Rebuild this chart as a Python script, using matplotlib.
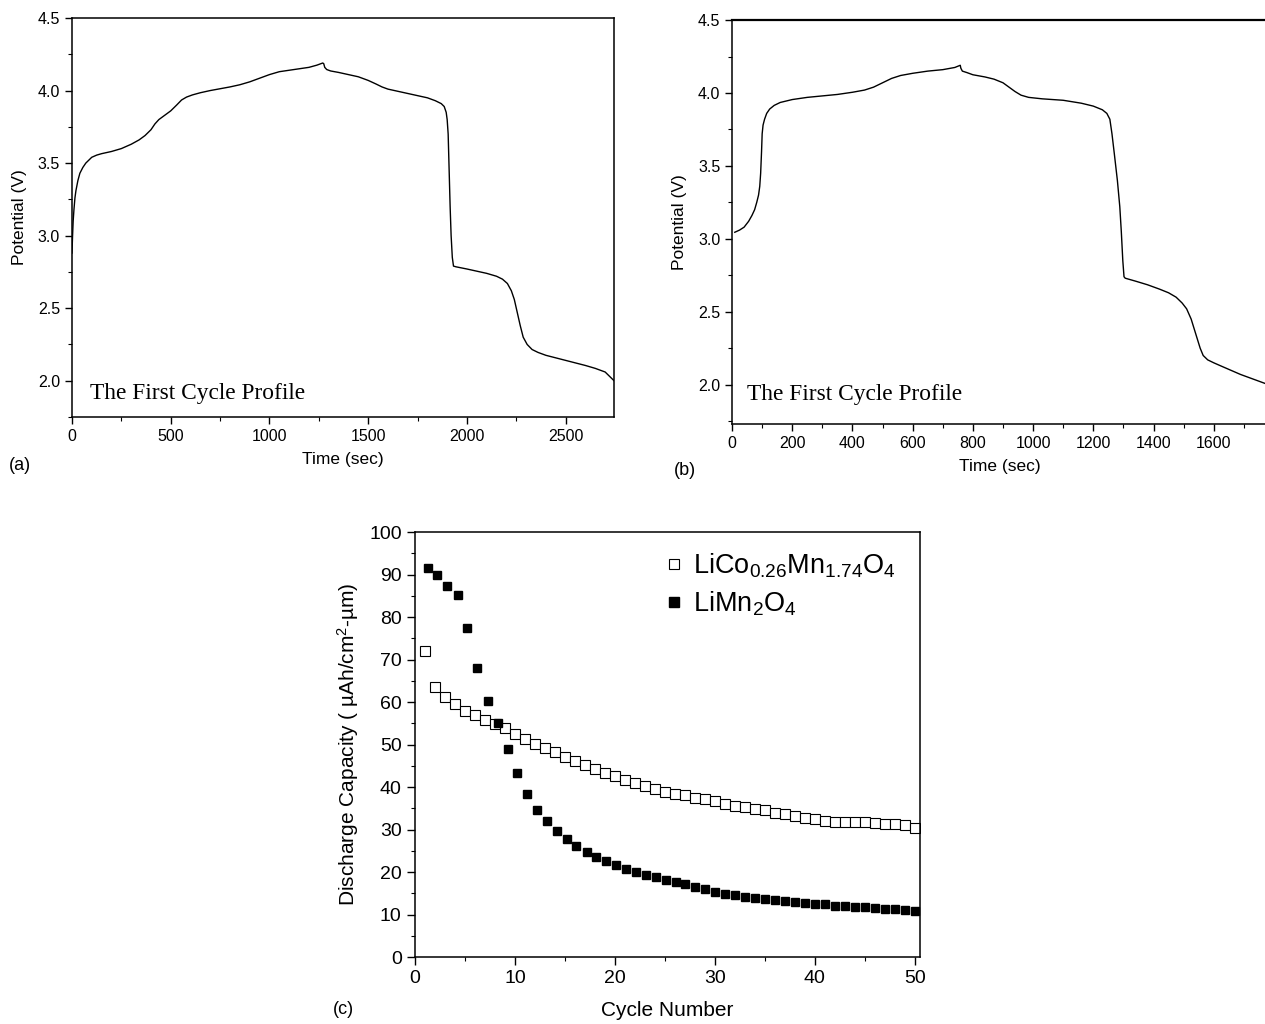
import matplotlib
matplotlib.use('Agg')
import matplotlib.pyplot as plt
import numpy as np
from matplotlib.ticker import MultipleLocator

plt.rcParams['font.family'] = ['Liberation Sans', 'DejaVu Sans']
plt.rcParams['mathtext.fontset'] = 'custom'
plt.rcParams['mathtext.rm'] = 'Liberation Sans'
plt.rcParams['mathtext.it'] = 'Liberation Sans:italic'
plt.rcParams['mathtext.bf'] = 'Liberation Sans:bold'

# panel (a): first cycle profile, LiCo0.26Mn1.74O4 film
time_a = [0, 3, 6, 10, 15, 20, 30, 40, 55, 70, 85, 100, 125, 150, 200, 250, 300,
          340, 370, 400, 420, 440, 470, 500, 530, 555, 580, 610, 650, 700, 800,
          850, 900, 950, 1000, 1050, 1100, 1150, 1200, 1240, 1270, 1275, 1280,
          1290, 1310, 1350, 1400, 1450, 1500, 1540, 1570, 1600, 1650, 1700, 1750,
          1800, 1840, 1870, 1885, 1895, 1900, 1905, 1910, 1915, 1920, 1926, 1932,
          1945, 2000, 2050, 2100, 2150, 2180, 2205, 2225, 2240, 2255, 2270, 2285,
          2305, 2330, 2360, 2400, 2500, 2600, 2650, 2700, 2745]
volt_a = [2.88, 3.00, 3.10, 3.18, 3.26, 3.31, 3.38, 3.43, 3.47, 3.50, 3.52, 3.54,
          3.555, 3.565, 3.58, 3.60, 3.63, 3.66, 3.69, 3.73, 3.77, 3.80, 3.83, 3.86,
          3.90, 3.935, 3.955, 3.97, 3.985, 4.00, 4.025, 4.04, 4.06, 4.085, 4.11,
          4.13, 4.14, 4.15, 4.16, 4.175, 4.19, 4.185, 4.16, 4.145, 4.135, 4.125,
          4.11, 4.095, 4.07, 4.045, 4.025, 4.01, 3.995, 3.98, 3.965, 3.95, 3.93,
          3.91, 3.89, 3.85, 3.80, 3.70, 3.45, 3.20, 3.00, 2.85, 2.79, 2.785, 2.77,
          2.755, 2.74, 2.72, 2.70, 2.67, 2.62, 2.56, 2.47, 2.38, 2.30, 2.25, 2.215,
          2.195, 2.175, 2.14, 2.105, 2.085, 2.06, 2.00]

# panel (b): first cycle profile, LiMn2O4 film
time_b = [9, 25, 40, 55, 66, 75, 82, 88, 92, 95, 98, 100, 103, 108, 115, 125, 140,
          160, 200, 250, 300, 350, 400, 440, 470, 500, 530, 560, 600, 650, 700,
          740, 758, 760, 765, 780, 800, 840, 870, 900, 920, 940, 960, 985, 1030,
          1100, 1160, 1200, 1230, 1245, 1255, 1262, 1270, 1280, 1288, 1293, 1298,
          1302, 1306, 1340, 1380, 1420, 1450, 1475, 1495, 1510, 1525, 1540, 1555,
          1565, 1580, 1600, 1622, 1689, 1775, 1790]
volt_b = [3.045, 3.06, 3.08, 3.12, 3.16, 3.20, 3.25, 3.30, 3.36, 3.45, 3.60, 3.72,
          3.78, 3.82, 3.86, 3.89, 3.915, 3.935, 3.955, 3.97, 3.98, 3.99, 4.005,
          4.02, 4.04, 4.07, 4.10, 4.12, 4.135, 4.15, 4.16, 4.175, 4.19, 4.17, 4.15,
          4.14, 4.125, 4.11, 4.095, 4.07, 4.04, 4.01, 3.985, 3.97, 3.96, 3.95,
          3.93, 3.91, 3.885, 3.86, 3.82, 3.72, 3.58, 3.40, 3.22, 3.05, 2.85, 2.74,
          2.73, 2.71, 2.685, 2.655, 2.63, 2.60, 2.56, 2.52, 2.45, 2.35, 2.25, 2.20,
          2.17, 2.15, 2.13, 2.07, 2.005, 1.995]

# panel (c): discharge capacity vs cycle number
cycles_co = list(range(1, 51))
cap_co = [72.0, 63.6, 61.2, 59.5, 58.0, 56.9, 55.8, 54.8, 53.9, 52.5,
          51.4, 50.2, 49.1, 48.2, 47.1, 46.1, 45.2, 44.2, 43.4, 42.5,
          41.7, 41.0, 40.3, 39.6, 38.9, 38.4, 38.1, 37.5, 37.1, 36.7,
          36.1, 35.6, 35.2, 34.8, 34.5, 34.0, 33.6, 33.3, 32.8, 32.4,
          31.9, 31.7, 31.7, 31.8, 31.7, 31.6, 31.3, 31.2, 31.0, 30.3]
cycles_mn = [1.3, 2.25, 3.25, 4.3, 5.25, 6.25, 7.3, 8.3, 9.3, 10.25,
             11.25, 12.25, 13.2, 14.2, 15.2, 16.15, 17.2, 18.15, 19.15, 20.15,
             21.15, 22.15, 23.15, 24.1, 25.1, 26.1, 27.05, 28.05, 29.05, 30.0,
             31.0, 32.0, 33.0, 34.0, 35.0, 36.0, 37.0, 38.0, 39.0, 40.0,
             41.0, 42.0, 43.0, 44.0, 45.0, 46.0, 47.0, 48.0, 49.0, 50.0]
cap_mn = [91.5, 90.0, 87.2, 85.1, 77.4, 67.9, 60.2, 55.0, 49.0, 43.3,
          38.3, 34.7, 32.0, 29.6, 27.7, 26.2, 24.8, 23.6, 22.6, 21.6,
          20.8, 20.0, 19.4, 18.8, 18.2, 17.6, 17.1, 16.4, 15.9, 15.4,
          14.9, 14.7, 14.1, 13.9, 13.6, 13.5, 13.1, 13.0, 12.7, 12.4,
          12.5, 12.1, 12.1, 11.8, 11.7, 11.6, 11.4, 11.3, 11.1, 10.8]

fig = plt.figure(figsize=(12.65, 10.24), dpi=100)


def style_axis(ax, labelsize):
    ax.tick_params(which='major', direction='out', length=5, width=1, labelsize=labelsize)
    ax.tick_params(which='minor', direction='out', length=3, width=0.8)
    ax.tick_params(top=False, right=False)
    for s in ax.spines.values():
        s.set_linewidth(1.1)


# (a)
ax1 = fig.add_axes([0.0569, 0.5928, 0.4285, 0.3896])
ax1.plot(time_a, volt_a, color='k', lw=1.0)
ax1.set_xlim(0, 2745)
ax1.set_ylim(1.75, 4.5)
ax1.xaxis.set_major_locator(MultipleLocator(500))
ax1.xaxis.set_minor_locator(MultipleLocator(250))
ax1.yaxis.set_major_locator(MultipleLocator(0.5))
ax1.yaxis.set_minor_locator(MultipleLocator(0.25))
ax1.yaxis.set_major_formatter(matplotlib.ticker.FormatStrFormatter('%.1f'))
style_axis(ax1, 11.5)
ax1.set_xlabel('Time (sec)', fontsize=12.5, labelpad=6)
ax1.set_ylabel('Potential (V)', fontsize=12.5, labelpad=8)
ax1.text(0.033, 0.06, 'The First Cycle Profile', transform=ax1.transAxes,
         fontsize=16.8, family='Liberation Serif', va='center')
fig.text(0.007, 0.545, '(a)', fontsize=13, va='center')

# (b)
ax2 = fig.add_axes([0.5787, 0.5859, 0.4236, 0.3945])
ax2.plot(time_b, volt_b, color='k', lw=1.0)
ax2.set_xlim(0, 1780)
ax2.set_ylim(1.73, 4.5)
ax2.xaxis.set_major_locator(MultipleLocator(200))
ax2.xaxis.set_minor_locator(MultipleLocator(100))
ax2.yaxis.set_major_locator(MultipleLocator(0.5))
ax2.yaxis.set_minor_locator(MultipleLocator(0.25))
ax2.yaxis.set_major_formatter(matplotlib.ticker.FormatStrFormatter('%.1f'))
style_axis(ax2, 11.5)
ax2.spines['top'].set_linewidth(1.6)
ax2.set_xlabel('Time (sec)', fontsize=12.5, labelpad=6)
ax2.set_ylabel('Potential (V)', fontsize=12.5, labelpad=8)
ax2.text(0.028, 0.072, 'The First Cycle Profile', transform=ax2.transAxes,
         fontsize=16.8, family='Liberation Serif', va='center')
fig.text(0.533, 0.541, '(b)', fontsize=13, va='center')

# (c)
ax3 = fig.add_axes([0.328, 0.0654, 0.3992, 0.4150])
ax3.plot(cycles_co, cap_co, ls='none', marker='s', ms=6.5, mfc='white',
         mec='k', mew=0.8, label=r'LiCo$_{0.26}$Mn$_{1.74}$O$_4$')
ax3.plot(cycles_mn, cap_mn, ls='none', marker='s', ms=6, mfc='k', mec='k',
         label=r'LiMn$_2$O$_4$')
ax3.set_xlim(0, 50.5)
ax3.set_ylim(0, 100)
ax3.xaxis.set_major_locator(MultipleLocator(10))
ax3.xaxis.set_minor_locator(MultipleLocator(5))
ax3.yaxis.set_major_locator(MultipleLocator(10))
ax3.yaxis.set_minor_locator(MultipleLocator(5))
style_axis(ax3, 14)
ax3.tick_params(which='major', length=6)
ax3.set_xlabel('Cycle Number', fontsize=15, labelpad=10)
ax3.set_ylabel('Discharge Capacity ( \u00b5Ah/cm$^2$-\u00b5m)', fontsize=15, labelpad=6)
ax3.legend(loc='upper right', frameon=False, fontsize=19.5, handletextpad=0.2,
           handlelength=1.0, labelspacing=0.35, borderaxespad=0.3,
           markerscale=1.15, bbox_to_anchor=(0.99, 1.0))
fig.text(0.2635, 0.014, '(c)', fontsize=13, va='center')

plt.savefig('out.png', dpi=100)
